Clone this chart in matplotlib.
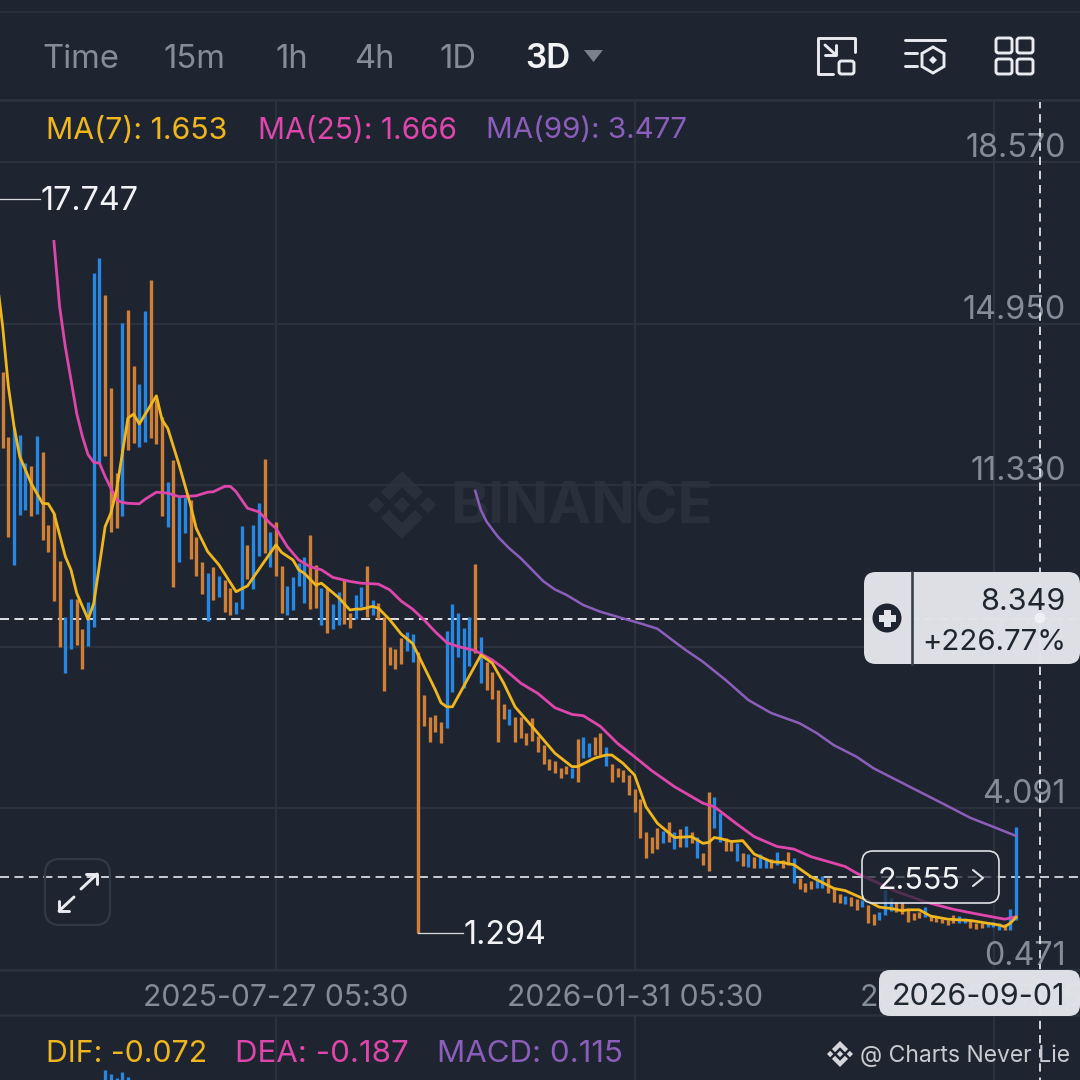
import matplotlib
matplotlib.use("Agg")
import matplotlib.pyplot as plt
from matplotlib.patches import FancyBboxPatch, Polygon, Circle, Rectangle
from matplotlib.transforms import blended_transform_factory

plt.rcParams['font.family'] = ['Inter', 'DejaVu Sans']

# candles, left to right
candle_high = [
    13.88, 12.42, 12.62, 12.46, 11.84, 11.77, 12.44, 12.08, 10.45, 10.72,
    9.64, 8.38, 8.79, 8.79, 8.12, 8.72, 16.09, 16.43, 15.60, 13.52,
    11.61, 14.97, 15.27, 14.01, 13.61, 15.24, 15.94, 13.25, 12.87, 11.41,
    11.90, 11.07, 11.07, 11.01, 10.18, 9.62, 9.37, 9.50, 9.30, 9.21,
    9.03, 8.72, 10.42, 10.00, 10.45, 10.94, 11.93, 10.29, 10.51, 9.53,
    9.08, 9.28, 9.59, 9.73, 10.22, 9.55, 9.03, 9.03, 8.68, 8.94,
    9.21, 8.47, 8.88,
    9.06, 9.53, 8.77, 8.70, 8.38, 7.71, 7.67, 7.91, 8.05, 8.00,
    7.60, 6.64, 6.14, 6.19, 6.03, 8.07, 8.68, 8.47, 8.14, 8.38,
    9.57, 7.94, 7.38, 7.15, 6.75, 6.43, 6.32, 6.14, 6.14, 5.78,
    6.12, 5.72, 5.51, 5.20, 5.16, 5.00, 5.04, 5.00, 5.65, 5.69,
    5.56, 5.69, 5.78, 5.47, 5.09, 5.00,
    4.95, 4.84, 4.53, 4.30, 3.56, 3.45, 3.65, 3.59, 3.79, 3.56,
    3.63, 3.70, 3.56, 3.45, 3.09, 4.46, 4.35, 3.99, 3.43, 3.34,
    3.32, 3.09, 3.07, 3.00, 3.07, 2.96, 2.96, 3.12, 2.94, 3.12,
    2.98, 2.53, 2.42, 2.47, 2.53, 2.58, 2.53, 2.31, 2.17, 2.13,
    2.11, 2.06, 2.04, 1.93, 1.73, 1.77, 2.26, 2.08, 2.00, 2.00,
    1.82, 1.75, 1.77, 1.88, 1.68, 1.66, 1.61, 1.59, 1.70, 1.68,
    1.64, 1.57, 1.52, 1.52, 1.55, 1.55, 1.52, 1.50, 1.84, 3.68,
]
candle_low = [
    12.17, 10.18, 9.55, 10.67, 10.78, 10.65, 10.69, 10.11, 9.84, 8.74,
    7.71, 7.13, 7.67, 7.76, 7.22, 7.73, 8.16, 11.84, 11.99, 10.29,
    10.38, 10.65, 12.13, 12.28, 12.19, 12.31, 12.40, 12.26, 10.65, 10.40,
    9.06, 9.62, 10.27, 9.68, 9.30, 8.90, 8.29, 8.77, 8.83, 8.50,
    8.43, 8.45, 8.56, 9.24, 9.01, 9.75, 9.82, 9.50, 9.30, 8.47,
    8.43, 8.54, 9.08, 8.70, 8.56, 8.59, 8.20, 8.03, 8.12, 8.20,
    8.23, 8.14, 8.34,
    8.61, 8.38, 8.43, 8.34, 6.73, 7.31, 7.22, 7.33, 7.62, 7.38,
    1.294, 5.94, 5.58, 5.81, 5.56, 5.90, 6.70, 7.49, 6.79, 7.29,
    7.58, 6.90, 6.75, 6.55, 5.58, 6.10, 5.96, 5.58, 5.67, 5.51,
    5.60, 5.36, 5.09, 4.95, 4.89, 4.78, 4.86, 4.78, 4.69, 5.22,
    5.25, 5.29, 5.29, 5.04, 4.69, 4.80,
    4.69, 4.39, 4.01, 3.43, 2.98, 3.09, 3.18, 3.32, 3.34, 3.18,
    3.23, 3.23, 3.32, 2.98, 2.82, 2.69, 3.65, 3.34, 3.14, 3.14,
    2.91, 2.80, 2.78, 2.76, 2.76, 2.76, 2.76, 2.82, 2.76, 2.82,
    2.42, 2.29, 2.22, 2.29, 2.31, 2.31, 2.20, 2.00, 1.97, 1.95,
    1.91, 1.82, 1.88, 1.52, 1.48, 1.59, 1.70, 1.79, 1.77, 1.73,
    1.55, 1.59, 1.64, 1.66, 1.57, 1.55, 1.52, 1.48, 1.52, 1.52,
    1.52, 1.41, 1.39, 1.41, 1.44, 1.44, 1.37, 1.37, 1.37, 1.59,
]
# u = blue, d = orange
candle_dir = (
    "dduuududdd" "duudduuudd" "dudduudddu" "duudddudud" "duuduududd" "uuuudduduu" "ddu"
    "ududdddd" "uud" "dddduuuuud" "uddddudddd" "dddddduduu" "dduddd"
    "ddddddudud" "ududduuddu" "duduududdu" "ddduudddud" "dudduuuddd" "ddudddddu" "u" "ddduuuduuu"
)

ma7_idx = [-1, 0, 1, 2, 3, 5, 7, 8, 9, 11, 12, 13, 15, 16, 18, 19, 20, 22, 23, 24,
           27, 28, 29, 31, 33, 34, 36, 38, 41, 43, 48, 49, 51, 52, 53, 55, 56, 59, 61, 62,
           63, 65, 66, 68, 70, 72, 73, 76, 77, 78, 79, 84, 86, 88, 90, 93, 97, 100, 101, 104,
           106, 107, 109, 111, 113, 115, 118, 121, 123, 124, 125, 126, 128, 130, 132, 135, 137, 139, 142, 146,
           148, 151, 154, 156, 158, 159, 161, 163, 166, 170, 175, 176, 177, 178]
ma7_val = [15.94, 14.89, 13.55, 12.65, 11.98, 11.38, 10.93, 10.92, 10.71, 9.74, 9.44, 8.92, 8.33, 8.69, 10.41, 10.71, 11.23, 12.84, 12.93, 12.71,
           13.34, 12.80, 12.61, 11.79, 10.89, 10.37, 9.85, 9.55, 8.95, 9.08, 10.00, 9.83, 9.66, 9.44, 9.36, 9.10, 9.14, 8.82, 8.54, 8.56,
           8.56, 8.62, 8.58, 8.32, 8.00, 7.79, 7.53, 6.75, 6.46, 6.37, 6.37, 7.53, 7.35, 6.90, 6.37, 5.93, 5.33, 5.03, 5.03, 5.22,
           5.29, 5.29, 5.10, 4.84, 4.13, 3.76, 3.44, 3.46, 3.31, 3.33, 3.44, 3.42, 3.35, 3.37, 3.07, 2.90, 2.88, 2.83, 2.56, 2.30,
           2.25, 2.08, 1.88, 1.85, 1.80, 1.82, 1.82, 1.68, 1.61, 1.58, 1.48, 1.44, 1.52, 1.653]

ma25_idx = [9, 10, 11, 12, 13, 14, 15, 16, 17, 18, 19, 20, 21, 22, 24, 25, 27, 29, 31, 34,
            36, 37, 39, 40, 41, 43, 45, 47, 48, 50, 52, 54, 56, 58, 61, 63, 66, 68, 70, 72,
            74, 76, 78, 80, 83, 86, 88, 91, 94, 97, 100, 102, 105, 108, 111, 114, 118, 123, 125, 129,
            132, 136, 139, 142, 148, 150, 154, 157, 162, 167, 171, 176, 178]
ma25_val = [16.80, 15.34, 14.44, 13.70, 12.95, 12.43, 12.02, 11.85, 11.83, 11.53, 11.27, 11.01, 10.95, 10.93, 10.92, 11.02, 11.18, 11.16, 11.08, 11.10,
            11.18, 11.19, 11.31, 11.31, 11.19, 10.82, 10.74, 10.48, 10.37, 9.96, 9.66, 9.51, 9.44, 9.27, 9.18, 9.14, 9.12, 8.99, 8.74, 8.56,
            8.32, 8.05, 7.81, 7.72, 7.63, 7.42, 7.23, 6.90, 6.67, 6.35, 6.20, 6.17, 5.93, 5.55, 5.25, 4.94, 4.58, 4.21, 4.13, 3.74,
            3.46, 3.24, 3.18, 3.01, 2.79, 2.64, 2.41, 2.23, 2.00, 1.83, 1.73, 1.61, 1.666]

ma99_idx = [83, 84, 85, 87, 89, 91, 93, 95, 97, 99, 102, 105, 109, 112, 115, 118, 120, 123, 127,
            131, 135, 140, 143, 146, 150, 153, 157, 161, 165, 170, 174, 178]
ma99_val = [11.21, 10.78, 10.52, 10.18, 9.92, 9.70, 9.44, 9.18, 9.00, 8.88, 8.65, 8.50, 8.35, 8.24, 8.12, 7.83, 7.64, 7.38, 6.97,
            6.52, 6.23, 6.00, 5.78, 5.51, 5.25, 4.99, 4.73, 4.47, 4.21, 3.88, 3.68, 3.477]

macd_idx = [18, 19, 20, 21, 22]
macd_hist = [0.30, 0.18, 0.06, 0.24, 0.09]

price_ticks = [18.570, 14.950, 11.330, 7.710, 4.091, 0.471]
price_labels = ["18.570", "14.950", "11.330", "7.710", "4.091", "0.471"]
time_idx = [48.0, 111.07, 174.1]
time_labels = ["2025-07-27 05:30", "2026-01-31 05:30", "2026-08-07 05:30"]
tabs = ["Time", "15m", "1h", "4h", "1D"]
high_price = 17.747
low_price = 1.294
cross_price = 8.349
last_price = 2.555

BG = '#1F2530'
GRID = '#2C323D'
GREY = '#848C98'
YEL = '#F0B61E'
PINK = '#DE46AC'
PUR = '#8C5EBC'
BLUE = '#2688E2'
ORG = '#CF7F36'
LIGHT = '#E2E4E9'
ICON = '#E9EBF0'
DARK = '#1F2530'
FS = 22
FS_PRICE = 23.3


def logo(a, cx, cy, s, color, z=1):
    parts = [
        [(0, -.245), (.245, 0), (0, .245), (-.245, 0)],
        [(-.76, -.245), (-.515, 0), (-.76, .245), (-1, 0)],
        [(.76, -.245), (1, 0), (.76, .245), (.515, 0)],
        [(0, -1), (.62, -.38), (.38, -.14), (0, -.52), (-.38, -.14), (-.62, -.38)],
        [(0, 1), (.62, .38), (.38, .14), (0, .52), (-.38, .14), (-.62, .38)],
    ]
    for p in parts:
        a.add_patch(Polygon([(cx + s * u, cy + s * v) for u, v in p], closed=True, fc=color, ec='none', zorder=z))


def chip(a, x0, y0, x1, y1, fc, ec='none', r=10, lw=0, alpha=1.0, z=5):
    a.add_patch(FancyBboxPatch((x0 + r, y0 + r), x1 - x0 - 2 * r, y1 - y0 - 2 * r,
                               boxstyle=f"round,pad={r},rounding_size={r}",
                               fc=fc, ec=ec, lw=lw, alpha=alpha, zorder=z))


fig = plt.figure(figsize=(10.8, 10.8), dpi=100, facecolor=BG)

# watermark sits under the price pane
wm = fig.add_axes([0, 0, 1, 1], facecolor='none', zorder=0.5)
wm.set_xlim(0, 1080)
wm.set_ylim(1080, 0)
wm.axis('off')
logo(wm, 402, 505, 34, '#2A303B')
wm.text(450, 509, "BINANCE", fontsize=41.5, fontweight='bold', color='#2A303B', va='center')

# price pane, 100 to 970 px
ax = fig.add_axes([0, 110 / 1080, 1, 870 / 1080], facecolor='none', zorder=1)
ax.set_xlim(-0.47, 189.24)
ax.set_ylim(0.471, 19.97)
ax.set_yticks(price_ticks)
ax.set_yticklabels([])
ax.set_xticks(time_idx)
ax.set_xticklabels(time_labels, fontsize=21.7, color=GREY)
ax.tick_params(length=0, pad=9.8)
ax.grid(True, color=GRID, linewidth=1.6)
ax.set_axisbelow(True)
for s in ax.spines.values():
    s.set_visible(False)

ax.axhline(cross_price, color='#F2F3F5', lw=1.3, dashes=(5, 3), zorder=1.5)
ax.axhline(last_price, color='#D8DADF', lw=1.3, dashes=(5, 3), zorder=1.5)

colors = [BLUE if d == 'u' else ORG for d in candle_dir]
ax.vlines(range(len(candle_high)), candle_low, candle_high, colors=colors, linewidth=2.4, zorder=2)

ax.plot(ma99_idx, ma99_val, color=PUR, lw=1.8, zorder=3, solid_joinstyle='round')
ax.plot(ma25_idx, ma25_val, color=PINK, lw=2.0, zorder=3, solid_joinstyle='round')
ax.plot(ma7_idx, ma7_val, color=YEL, lw=2.0, zorder=4, solid_joinstyle='round')

# high / low markers
ax.plot([-1, 6.6], [high_price, high_price], color='#DADCE0', lw=0.9)
ax.text(6.7, high_price - 0.06, f"{high_price:.3f}", fontsize=FS_PRICE, color='#F2F3F5', va='center', ha='left')
ax.plot([73, 80.8], [low_price, low_price], color='#DADCE0', lw=0.9)
ax.text(81, low_price - 0.06, f"{low_price:.3f}", fontsize=FS_PRICE, color='#F2F3F5', va='center', ha='left')

trans = blended_transform_factory(ax.transAxes, ax.transData)
for p, lab in zip(price_ticks, price_labels):
    ax.annotate(lab, (1, p), xycoords=trans, xytext=(-10, 10), textcoords='offset points',
                ha='right', va='center', fontsize=FS_PRICE, color=GREY, zorder=4)

# MACD pane, only its first bars show
ax_m = fig.add_axes([0, 0, 1, 65 / 1080], facecolor='none', zorder=1)
ax_m.set_xlim(-0.47, 189.24)
ax_m.set_ylim(0, 1.95)
ax_m.set_xticks(time_idx)
ax_m.set_xticklabels([])
ax_m.set_yticks([])
ax_m.tick_params(length=0)
ax_m.grid(True, axis='x', color=GRID, linewidth=1.6)
ax_m.set_axisbelow(True)
for s in ax_m.spines.values():
    s.set_visible(False)
ax_m.vlines(macd_idx, 0, macd_hist, colors=BLUE, linewidth=2.4)

# app chrome, in pixels
ui = fig.add_axes([0, 0, 1, 1], facecolor='none', zorder=5)
ui.set_xlim(0, 1080)
ui.set_ylim(1080, 0)
ui.axis('off')

ui.plot([0, 1080], [12, 12], color=GRID, lw=1.2)
ui.plot([0, 1080], [100, 100], color=GRID, lw=2.2)
ui.plot([0, 1080], [970, 970], color=GRID, lw=1.8)
ui.plot([0, 1080], [1015, 1015], color=GRID, lw=1.8)
ui.plot([1040, 1040], [100, 1080], color='#F2F3F5', lw=1.2, dashes=(5, 3.5), zorder=1)

for t, x in zip(tabs, [42, 163, 275, 354, 439]):
    ui.text(x, 60, t, fontsize=23.6, color=GREY, va='center', ha='left')
ui.text(525, 59, "3D", fontsize=24, color='#F2F3F5', va='center', ha='left', fontweight='semibold')
ui.add_patch(Polygon([(584, 50), (603, 50), (593.5, 62)], closed=True, fc='#7B818C', ec='none'))

ui.text(46, 131, "MA(7): 1.653", fontsize=21.8, color=YEL, va='center')
ui.text(258, 131, "MA(25): 1.666", fontsize=21.5, color=PINK, va='center')
ui.text(486, 131, "MA(99): 3.477", fontsize=21.3, color=PUR, va='center')

ui.text(46, 1054, "DIF: -0.072", fontsize=21.8, color=YEL, va='center')
ui.text(235, 1054, "DEA: -0.187", fontsize=22.5, color=PINK, va='center')
ui.text(437, 1054, "MACD: 0.115", fontsize=22.5, color=PUR, va='center')

logo(ui, 840, 1054, 13, '#D5D7DC')
ui.text(860, 1056, "@ Charts Never Lie", fontsize=16.5, color='#C9CBD0', va='center')

# toolbar icons
kw = dict(color=ICON, lw=2.1, solid_capstyle='round', solid_joinstyle='round')
ui.plot([855, 855, 818, 818, 833], [52, 38, 38, 74, 74], **kw)
ui.plot([825, 836], [45, 55], **kw)
ui.plot([836, 836, 825], [45, 55, 55], **kw)
chip(ui, 839, 61, 854, 74, 'none', ICON, r=2.5, lw=2.1)
ui.plot([905, 945], [40, 40], **kw)
ui.plot([905, 917], [53, 53], **kw)
ui.plot([905, 917], [66, 66], **kw)
ui.add_patch(Polygon([(933, 47), (944, 53.5), (944, 66.5), (933, 73), (922, 66.5), (922, 53.5)], closed=True, fc='none', ec=ICON, lw=2.1))
ui.add_patch(Polygon([(933, 56), (937, 60), (933, 64), (929, 60)], closed=True, fc=ICON, ec='none'))
for x0, x1 in [(996, 1012), (1017, 1033)]:
    for y0, y1 in [(38, 53), (59, 74)]:
        chip(ui, x0, y0, x1, y1, 'none', ICON, r=2.5, lw=2.1)

# expand button
chip(ui, 45, 859, 110, 925, 'none', '#333A46', r=15, lw=1.6)
ui.plot([81, 97], [889, 874], **kw)
ui.plot([86, 97, 97], [874, 874, 884], **kw)
ui.plot([74, 59], [897, 911], **kw)
ui.plot([59, 59, 69], [901, 911, 911], **kw)

# crosshair price chip
chip(ui, 864, 572, 1080, 664, LIGHT, r=12, alpha=0.98, z=6)
ui.plot([912, 912], [572, 664], color='#3A404B', lw=1.9, zorder=7)
ui.add_patch(Circle((887, 618), 14.5, fc=DARK, ec='none', zorder=7))
ui.add_patch(Rectangle((878.5, 615), 17, 6.5, fc=LIGHT, ec='none', zorder=8))
ui.add_patch(Rectangle((884, 609.5), 6.5, 17, fc=LIGHT, ec='none', zorder=8))
ui.text(1066, 602, "8.349", fontsize=22, color='#20262F', ha='right', va='center', zorder=8)
ui.text(1066, 643, "+226.77%", fontsize=21.2, color='#20262F', ha='right', va='center', zorder=8)
ui.add_patch(Circle((1040, 618), 5.5, fc='#EEF0F6', ec='none', zorder=7.5))

# last price button
chip(ui, 862, 851, 999, 903, BG, 'none', r=11, alpha=0.72, z=6)
chip(ui, 862, 851, 999, 903, 'none', '#DFE1E5', r=11, lw=1.2, z=7)
ui.text(878, 881, "2.555", fontsize=22, color='#F2F3F5', va='center', zorder=8)
ui.plot([973, 983, 973], [870, 878, 886], color='#DFE1E5', lw=1.5, zorder=8, solid_capstyle='round')

# date chip
chip(ui, 879, 970, 1080, 1016, LIGHT, r=11, alpha=0.98, z=6)
ui.text(978, 997, "2026-09-01", fontsize=22, color='#20262F', ha='center', va='center', zorder=8)

plt.savefig("out.png", dpi=100, facecolor=BG)
